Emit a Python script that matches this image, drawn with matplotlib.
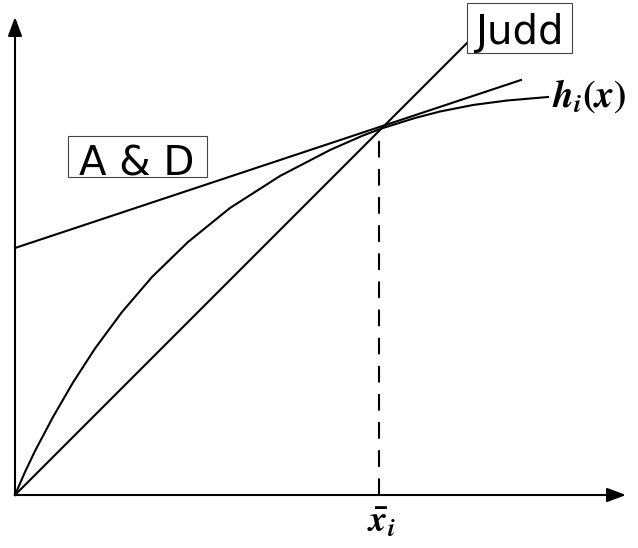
import matplotlib
matplotlib.use('Agg')
import matplotlib.pyplot as plt
from matplotlib.patches import Rectangle

plt.rcParams['mathtext.fontset'] = 'custom'
plt.rcParams['mathtext.it'] = 'STIXGeneral:italic:bold'
plt.rcParams['mathtext.rm'] = 'STIXGeneral:bold'

# concave function h_i(x)
h_x = [0, 10, 20, 38, 58, 80, 107, 137, 173, 215, 265, 315, 348, 368, 400, 425, 458, 492, 533]
h_y = [0, 23, 44, 78, 112.5, 146.5, 183, 218, 253, 287, 319, 345, 359.5, 367, 377, 383.5, 390, 394.5, 398]

# the two approximating lines
judd_x = [0, 452]
judd_y = [0, 452]
ad_x = [0, 506]
ad_y = [247, 415]

xbar = 364
xbar_h = 366

fig = plt.figure(figsize=(6.38, 5.48), dpi=100)
ax = fig.add_axes([0, 0, 1, 1])
ax.set_xlim(-15, 623)
ax.set_ylim(-53, 495)
ax.axis('off')

lw = 1.5
ax.plot(h_x, h_y, color='black', lw=lw, solid_joinstyle='round')
ax.plot(judd_x, judd_y, color='black', lw=lw)
ax.plot(ad_x, ad_y, color='black', lw=lw)
ax.plot([xbar, xbar], [0, xbar_h], color='black', lw=lw, dashes=(8, 5.5))

# axes with arrow heads
arrow = dict(arrowstyle='-|>,head_length=1.15,head_width=0.43', mutation_scale=10,
             lw=lw, color='black', shrinkA=0, shrinkB=0)
ax.annotate('', xy=(611, 0), xytext=(0, 0), arrowprops=arrow)
ax.annotate('', xy=(0, 478), xytext=(0, 0), arrowprops=arrow)

# boxed labels
ax.add_patch(Rectangle((452, 442), 105, 50, facecolor='white', edgecolor='#444444', lw=0.8, zorder=3))
ax.text(504, 451, 'Judd', fontsize=29, ha='center', va='baseline', zorder=4)
ax.add_patch(Rectangle((53, 318), 139, 41, facecolor='white', edgecolor='#444444', lw=0.8, zorder=3))
ax.text(122, 319, 'A & D', fontsize=29, ha='center', va='baseline', zorder=4)

ax.text(537, 388, r'$h_i(x)$', fontsize=27, ha='left', va='baseline')
ax.text(366, -37, r'$\bar{x}_i$', fontsize=26, ha='center', va='baseline')

fig.savefig('out.png', dpi=100)
